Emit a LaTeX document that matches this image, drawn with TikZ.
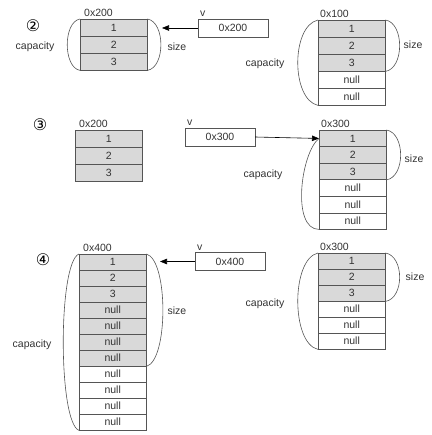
\documentclass[tikz,border=0pt]{standalone}
\usepackage{fontspec}
\setmainfont{Liberation Sans}
\newfontfamily\circfont{DejaVu Sans}
\usetikzlibrary{positioning,arrows.meta}
\usepackage{xcolor}
\definecolor{CellGray}{HTML}{D9D9D9}
\definecolor{LineGray}{HTML}{555555}
\definecolor{TextGray}{HTML}{333333}

\begin{document}
\begin{tikzpicture}[x=1pt, y=-1pt,
    cell/.style={draw=LineGray, anchor=north west, minimum width=67pt, minimum height=#1,
                 inner sep=0pt, font=\fontsize{10.5}{12}\selectfont, text=TextGray},
    cell/.default=16pt,
    used/.style={fill=CellGray},
    ptrbox/.style={draw=LineGray, minimum width=70pt, minimum height=18pt, inner sep=0pt,
                   font=\fontsize{10.5}{12}\selectfont, text=TextGray},
    lbl/.style={font=\fontsize{10.5}{12}\selectfont, text=TextGray, inner sep=1pt},
    adr/.style={lbl, anchor=south west, inner sep=2pt},
    stepno/.style={font=\circfont\fontsize{16}{18}\selectfont, text=black},
    curve/.style={draw=LineGray, line width=0.6pt},
    ptr/.style={draw=black, line width=0.6pt, -{Triangle[length=7pt,width=5.5pt]}}
  ]
    \useasboundingbox (0,0) rectangle (431,435);

    % --- step 2 ---
    \node[stepno] (n2) at (33,26) {②};
    \foreach \t [count=\i] in {1,2,3}
      \node[cell=17pt, used] (a\i) at (80,{19+17*(\i-1)}) {\t};
    \node[adr] (adrA) at ([xshift=2pt]a1.north west) {0x200};
    \draw[curve] (a1.north west) .. controls +(-17,3) and +(-17,-3) .. (a3.south west);
    \draw[curve] (a1.north east) .. controls +(18,3) and +(18,-3) .. (a3.south east);
    \node[lbl] (capA) at (35,47) {capacity};
    \node[lbl] (sizeA) at (177,47) {size};

    \node[ptrbox] (v2) at (233,28) {0x200};
    \node[adr] (v2l) at (v2.north west) {v};
    \coordinate (t2) at (162,28);
    \draw[ptr] (v2.west) -- (t2);

    \foreach \t [count=\i] in {1,2,3}
      \node[cell=17pt, used] (b\i) at (318,{20+17*(\i-1)}) {\t};
    \foreach \i in {4,5}
      \node[cell=17pt] (b\i) at (318,{20+17*(\i-1)}) {null};
    \node[adr] (adrB) at (b1.north west) {0x100};
    \draw[curve] (b1.north west) .. controls +(-27,6) and +(-27,-6) .. (b5.south west);
    \draw[curve] (b1.north east) .. controls +(19,3) and +(19,-3) .. (b3.south east);
    \node[lbl] (capB) at (265,64) {capacity};
    \node[lbl] (sizeB) at (413,45) {size};

    % --- step 3 ---
    \node[stepno] (n3) at (40,125) {③};
    \foreach \t [count=\i] in {1,2,3}
      \node[cell=17pt, used] (c\i) at (75,{130+17*(\i-1)}) {\t};
    \node[adr] (adrC) at ([xshift=2pt]c1.north west) {0x200};

    \node[ptrbox] (v3) at (220,137) {0x300};
    \node[adr] (v3l) at (v3.north west) {v};

    \foreach \t [count=\i] in {1,2,3}
      \node[cell=16.5pt, used] (d\i) at (319,{130+16.5*(\i-1)}) {\t};
    \foreach \i in {4,5,6}
      \node[cell=16.5pt] (d\i) at (319,{130+16.5*(\i-1)}) {null};
    \node[adr] (adrD) at (d1.north west) {0x300};
    \draw[ptr] (v3.east) -- (d1.west);
    \draw[curve] (d6.south west) .. controls +(-28,0) and +(-18,14) .. (d1.west);
    \draw[curve] (d1.north east) .. controls +(19,3) and +(19,-3) .. (d3.south east);
    \node[lbl] (capD) at (263,175) {capacity};
    \node[lbl] (sizeD) at (414,159) {size};

    % --- step 4 ---
    \node[stepno] (n4) at (43,260) {④};
    \foreach \t [count=\i] in {1,2,3,null,null,null,null}
      \node[cell, used] (e\i) at (79,{254+16*(\i-1)}) {\t};
    \foreach \i in {8,...,11}
      \node[cell] (e\i) at (79,{254+16*(\i-1)}) {null};
    \node[adr] (adrE) at ([xshift=2pt]e1.north west) {0x400};
    \draw[curve] (e1.north west) .. controls +(-21,8) and +(-21,-8) .. (e11.south west);
    \draw[curve] (e1.north east) .. controls +(22,6) and +(22,-6) .. (e7.south east);
    \node[lbl] (capE) at (32,345) {capacity};
    \node[lbl] (sizeE) at (177,311) {size};

    \node[ptrbox] (v4) at (230,261.5) {0x400};
    \node[adr] (v4l) at (v4.north west) {v};
    \coordinate (t4) at (160,261.5);
    \draw[ptr] (v4.west) -- (t4);

    \foreach \t [count=\i] in {1,2,3}
      \node[cell, used] (f\i) at (318,{253+16*(\i-1)}) {\t};
    \foreach \i in {4,5,6}
      \node[cell] (f\i) at (318,{253+16*(\i-1)}) {null};
    \node[adr] (adrF) at (f1.north west) {0x300};
    \draw[curve] (f1.north west) .. controls +(-27,6) and +(-27,-6) .. (f6.south west);
    \draw[curve] (f1.north east) .. controls +(19,3) and +(19,-3) .. (f3.south east);
    \node[lbl] (capF) at (265,304) {capacity};
    \node[lbl] (sizeF) at (415,277) {size};
  \end{tikzpicture}
\end{document}
